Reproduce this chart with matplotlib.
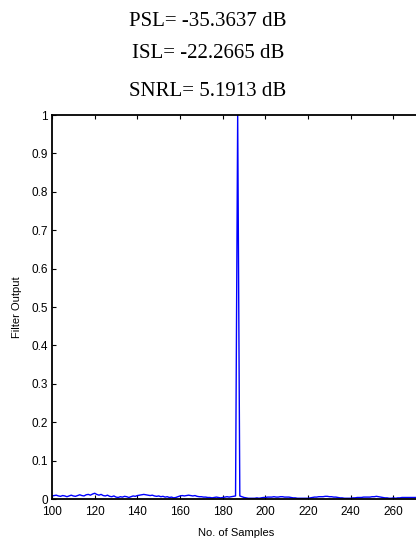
import matplotlib
matplotlib.use("Agg")
import matplotlib.pyplot as plt
import numpy as np
from matplotlib.ticker import FormatStrFormatter, MultipleLocator

# matched filter output, samples 100..275
samples = np.arange(100, 276)
output = [
    0.008, 0.009, 0.010, 0.008, 0.007, 0.009, 0.008, 0.006, 0.008, 0.010,
    0.008, 0.007, 0.009, 0.011, 0.009, 0.008, 0.011, 0.012, 0.010, 0.013,
    0.015, 0.012, 0.010, 0.012, 0.009, 0.008, 0.010, 0.007, 0.006, 0.008,
    0.005, 0.004, 0.006, 0.005, 0.007, 0.006, 0.004, 0.006, 0.008, 0.007,
    0.009, 0.010, 0.011, 0.012, 0.011, 0.010, 0.009, 0.010, 0.008, 0.007,
    0.008, 0.006, 0.007, 0.005, 0.006, 0.004, 0.005, 0.003, 0.004, 0.006,
    0.008, 0.009, 0.008, 0.009, 0.010, 0.009, 0.008, 0.009, 0.007, 0.006,
    0.006, 0.005, 0.005, 0.004, 0.004, 0.003, 0.004, 0.005, 0.004, 0.003,
    0.004, 0.005, 0.006, 0.005, 0.006, 0.007, 0.008, 1.000, 0.008, 0.006,
    0.004, 0.003, 0.002, 0.002, 0.002, 0.002, 0.003, 0.002, 0.003, 0.004,
    0.004, 0.005, 0.005, 0.005, 0.006, 0.005, 0.005, 0.006, 0.006, 0.005,
    0.005, 0.005, 0.004, 0.003, 0.003, 0.002, 0.002, 0.002, 0.002, 0.002,
    0.002, 0.003, 0.004, 0.005, 0.005, 0.006, 0.006, 0.006, 0.007, 0.007,
    0.006, 0.006, 0.005, 0.005, 0.004, 0.003, 0.003, 0.002, 0.002, 0.002,
    0.002, 0.003, 0.003, 0.004, 0.004, 0.004, 0.005, 0.005, 0.005, 0.005,
    0.006, 0.006, 0.007, 0.006, 0.005, 0.004, 0.003, 0.003, 0.002, 0.002,
    0.003, 0.002, 0.003, 0.003, 0.004, 0.004, 0.004, 0.004, 0.004, 0.004,
    0.004, 0.004, 0.004, 0.004, 0.004, 0.004,
]

metrics = ["PSL= -35.3637 dB", "ISL= -22.2665 dB", "SNRL= 5.1913 dB"]
metric_y = [0.961, 0.902, 0.832]

plt.rcParams["font.family"] = ["Liberation Sans", "DejaVu Sans"]

fig = plt.figure(figsize=(4.16, 5.42), dpi=100)
# right spine sits just past the canvas edge
ax = fig.add_axes([0.125, 0.0793, 0.885, 0.7085])

ax.plot(samples, output, color="blue", linewidth=1.0)

ax.set_xlim(100, 272.5)
ax.set_ylim(0, 1)
ax.xaxis.set_major_locator(MultipleLocator(20))
ax.yaxis.set_major_locator(MultipleLocator(0.1))
ax.yaxis.set_major_formatter(FormatStrFormatter("%g"))
ax.tick_params(direction="in", length=3, width=0.8, labelsize=8.5,
               top=True, right=True)
ax.tick_params(axis="x", pad=5)
ax.tick_params(axis="y", pad=3)

for side in ax.spines.values():
    side.set_linewidth(1.3)

ax.set_xlabel("No. of Samples", fontsize=8, labelpad=7)
ax.set_ylabel("Filter Output", fontsize=8, labelpad=7)

for txt, yy in zip(metrics, metric_y):
    fig.text(0.5, yy, txt, ha="center", va="center",
             family="Liberation Serif", fontsize=15)

fig.savefig("out.png", dpi=100)
